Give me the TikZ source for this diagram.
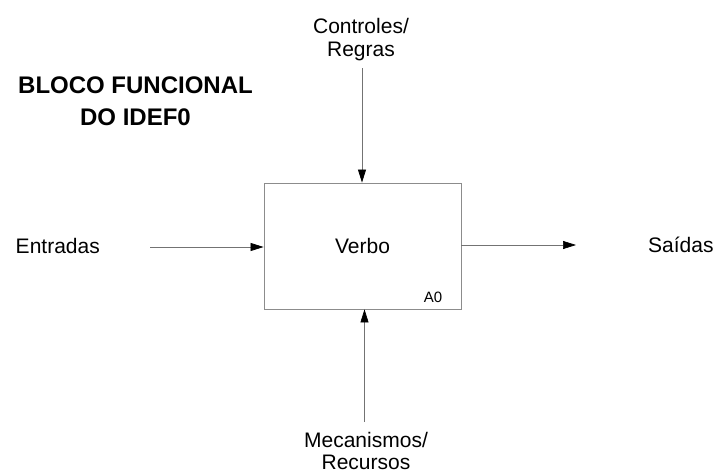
\documentclass[tikz,border=0pt]{standalone}
\usepackage{fontspec}
\setmainfont{Liberation Sans}
\usetikzlibrary{arrows.meta}

\begin{document}
\begin{tikzpicture}[x=1pt,y=-1pt,
  lbl/.style={font=\fontsize{21}{23}\selectfont, align=center, inner sep=0pt},
  ttl/.style={font=\bfseries\fontsize{24}{32}\selectfont, align=center, inner sep=0pt},
  func/.style={draw=black!45, line width=0.8pt, minimum width=197pt, minimum height=126pt,
    inner sep=0pt, font=\fontsize{21}{23}\selectfont},
  flow/.style={draw=black!55, line width=0.7pt,
    -{Triangle[length=13pt,width=8pt,color=black]}}
]
\useasboundingbox (0,0) rectangle (716,474);

% title (base anchor sits on the last line)
\node[ttl, anchor=base] (title) at (135.5,125) {BLOCO FUNCIONAL\\DO IDEF0};

% the function block
\node[func] (box) at (362.5,246) {Verbo};
\node[inner sep=0pt, font=\fontsize{15}{17}\selectfont, anchor=base] (code) at (433,302) {A0};

% ICOM labels
\node[lbl, anchor=base east] (inp) at (100,253) {Entradas};
\node[lbl, anchor=base west] (outp) at (648,252) {Saídas};
\node[lbl, anchor=base] (ctrl) at (361,56) {Controles/\\Regras};
\node[lbl, anchor=base, font=\fontsize{21}{22}\selectfont] (mech) at (366,469) {Mecanismos/\\Recursos};

% free ends of the arrows
\coordinate (inStart) at (150,247);
\coordinate (outEnd) at (576,245);
\coordinate (ctrlStart) at (362,68);
\coordinate (mechStart) at (364.5,422);

% arrows
\draw[flow] (inStart) -- (inStart -| box.west);
\draw[flow] (outEnd -| box.east) -- (outEnd);
\draw[flow] (ctrlStart) -- (ctrlStart |- box.north);
\draw[flow] (mechStart) -- (mechStart |- box.south);
\end{tikzpicture}
\end{document}
